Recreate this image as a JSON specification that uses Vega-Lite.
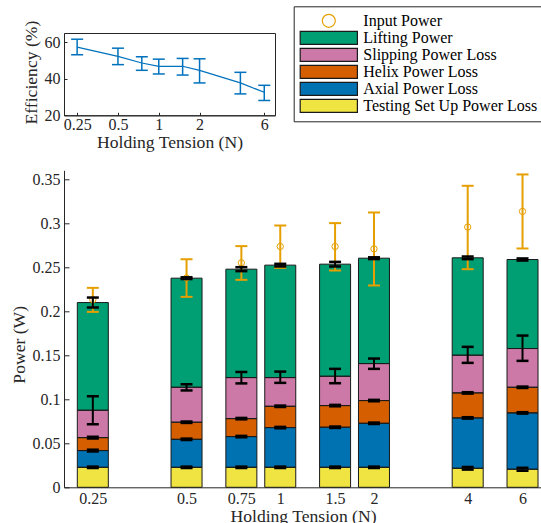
{
  "$schema": "https://vega.github.io/schema/vega-lite/v6.json",
  "padding": {"left": 10, "top": 5, "right": 0, "bottom": 0},
  "bounds": "flush",
  "spacing": 54.3,
  "resolve": {"scale": {"x": "independent", "y": "independent"}, "axis": {"x": "independent", "y": "independent"}},
  "datasets": {
    "eff": [
      {"tension": 0.25, "eff": 57.3, "lo": 53.1, "hi": 61.6},
      {"tension": 0.5, "eff": 52.2, "lo": 47.7, "hi": 56.7},
      {"tension": 0.75, "eff": 48.6, "lo": 44.6, "hi": 52.0},
      {"tension": 1, "eff": 46.8, "lo": 42.6, "hi": 50.7},
      {"tension": 1.5, "eff": 46.8, "lo": 42.0, "hi": 51.1},
      {"tension": 2, "eff": 44.6, "lo": 37.7, "hi": 50.9},
      {"tension": 4, "eff": 37.7, "lo": 31.7, "hi": 43.5},
      {"tension": 6, "eff": 32.6, "lo": 28.1, "hi": 36.4}
    ],
    "parts": [
      {"tension": 0.25, "component": "Testing Set Up Power Loss", "level": 1, "power": 0.0227},
      {"tension": 0.25, "component": "Axial Power Loss", "level": 2, "power": 0.019},
      {"tension": 0.25, "component": "Helix Power Loss", "level": 3, "power": 0.0147},
      {"tension": 0.25, "component": "Slipping Power Loss", "level": 4, "power": 0.0311},
      {"tension": 0.25, "component": "Lifting Power", "level": 5, "power": 0.1223},
      {"tension": 0.5, "component": "Testing Set Up Power Loss", "level": 1, "power": 0.0227},
      {"tension": 0.5, "component": "Axial Power Loss", "level": 2, "power": 0.0318},
      {"tension": 0.5, "component": "Helix Power Loss", "level": 3, "power": 0.0194},
      {"tension": 0.5, "component": "Slipping Power Loss", "level": 4, "power": 0.0397},
      {"tension": 0.5, "component": "Lifting Power", "level": 5, "power": 0.1239},
      {"tension": 0.75, "component": "Testing Set Up Power Loss", "level": 1, "power": 0.0227},
      {"tension": 0.75, "component": "Axial Power Loss", "level": 2, "power": 0.0349},
      {"tension": 0.75, "component": "Helix Power Loss", "level": 3, "power": 0.0204},
      {"tension": 0.75, "component": "Slipping Power Loss", "level": 4, "power": 0.0466},
      {"tension": 0.75, "component": "Lifting Power", "level": 5, "power": 0.1231},
      {"tension": 1, "component": "Testing Set Up Power Loss", "level": 1, "power": 0.0227},
      {"tension": 1, "component": "Axial Power Loss", "level": 2, "power": 0.0451},
      {"tension": 1, "component": "Helix Power Loss", "level": 3, "power": 0.0242},
      {"tension": 1, "component": "Slipping Power Loss", "level": 4, "power": 0.0326},
      {"tension": 1, "component": "Lifting Power", "level": 5, "power": 0.1277},
      {"tension": 1.5, "component": "Testing Set Up Power Loss", "level": 1, "power": 0.0227},
      {"tension": 1.5, "component": "Axial Power Loss", "level": 2, "power": 0.0455},
      {"tension": 1.5, "component": "Helix Power Loss", "level": 3, "power": 0.0246},
      {"tension": 1.5, "component": "Slipping Power Loss", "level": 4, "power": 0.0333},
      {"tension": 1.5, "component": "Lifting Power", "level": 5, "power": 0.1273},
      {"tension": 2, "component": "Testing Set Up Power Loss", "level": 1, "power": 0.0227},
      {"tension": 2, "component": "Axial Power Loss", "level": 2, "power": 0.05},
      {"tension": 2, "component": "Helix Power Loss", "level": 3, "power": 0.0258},
      {"tension": 2, "component": "Slipping Power Loss", "level": 4, "power": 0.042},
      {"tension": 2, "component": "Lifting Power", "level": 5, "power": 0.1197},
      {"tension": 4, "component": "Testing Set Up Power Loss", "level": 1, "power": 0.0216},
      {"tension": 4, "component": "Axial Power Loss", "level": 2, "power": 0.0572},
      {"tension": 4, "component": "Helix Power Loss", "level": 3, "power": 0.0284},
      {"tension": 4, "component": "Slipping Power Loss", "level": 4, "power": 0.0428},
      {"tension": 4, "component": "Lifting Power", "level": 5, "power": 0.1106},
      {"tension": 6, "component": "Testing Set Up Power Loss", "level": 1, "power": 0.0205},
      {"tension": 6, "component": "Axial Power Loss", "level": 2, "power": 0.064},
      {"tension": 6, "component": "Helix Power Loss", "level": 3, "power": 0.0291},
      {"tension": 6, "component": "Slipping Power Loss", "level": 4, "power": 0.044},
      {"tension": 6, "component": "Lifting Power", "level": 5, "power": 0.1011}
    ],
    "errs": [
      {"tension": 0.25, "lo": 0.0219, "hi": 0.0235},
      {"tension": 0.25, "lo": 0.0407, "hi": 0.0427},
      {"tension": 0.25, "lo": 0.0554, "hi": 0.0574},
      {"tension": 0.25, "lo": 0.0716, "hi": 0.1034},
      {"tension": 0.25, "lo": 0.2042, "hi": 0.2155},
      {"tension": 0.5, "lo": 0.0219, "hi": 0.0235},
      {"tension": 0.5, "lo": 0.0537, "hi": 0.0553},
      {"tension": 0.5, "lo": 0.0731, "hi": 0.0747},
      {"tension": 0.5, "lo": 0.110, "hi": 0.117},
      {"tension": 0.5, "lo": 0.2365, "hi": 0.2385},
      {"tension": 0.75, "lo": 0.0219, "hi": 0.0235},
      {"tension": 0.75, "lo": 0.0568, "hi": 0.0584},
      {"tension": 0.75, "lo": 0.0772, "hi": 0.0788},
      {"tension": 0.75, "lo": 0.118, "hi": 0.131},
      {"tension": 0.75, "lo": 0.2455, "hi": 0.25},
      {"tension": 1, "lo": 0.0219, "hi": 0.0235},
      {"tension": 1, "lo": 0.067, "hi": 0.0686},
      {"tension": 1, "lo": 0.0912, "hi": 0.0928},
      {"tension": 1, "lo": 0.1186, "hi": 0.1314},
      {"tension": 1, "lo": 0.2508, "hi": 0.2538},
      {"tension": 1.5, "lo": 0.0219, "hi": 0.0235},
      {"tension": 1.5, "lo": 0.0674, "hi": 0.069},
      {"tension": 1.5, "lo": 0.092, "hi": 0.0936},
      {"tension": 1.5, "lo": 0.1182, "hi": 0.1345},
      {"tension": 1.5, "lo": 0.2508, "hi": 0.256},
      {"tension": 2, "lo": 0.0219, "hi": 0.0235},
      {"tension": 2, "lo": 0.0719, "hi": 0.0735},
      {"tension": 2, "lo": 0.0977, "hi": 0.0993},
      {"tension": 2, "lo": 0.1345, "hi": 0.1462},
      {"tension": 2, "lo": 0.2592, "hi": 0.2612},
      {"tension": 4, "lo": 0.0201, "hi": 0.0231},
      {"tension": 4, "lo": 0.078, "hi": 0.0796},
      {"tension": 4, "lo": 0.1064, "hi": 0.108},
      {"tension": 4, "lo": 0.1413, "hi": 0.1595},
      {"tension": 4, "lo": 0.2591, "hi": 0.2621},
      {"tension": 6, "lo": 0.0188, "hi": 0.0222},
      {"tension": 6, "lo": 0.0837, "hi": 0.0853},
      {"tension": 6, "lo": 0.1128, "hi": 0.1144},
      {"tension": 6, "lo": 0.1436, "hi": 0.1723},
      {"tension": 6, "lo": 0.2575, "hi": 0.2599}
    ],
    "input": [
      {"tension": 0.25, "mean": 0.213, "lo": 0.1992, "hi": 0.2265},
      {"tension": 0.5, "mean": 0.2377, "lo": 0.2163, "hi": 0.259},
      {"tension": 0.75, "mean": 0.2549, "lo": 0.2356, "hi": 0.2739},
      {"tension": 1, "mean": 0.2735, "lo": 0.2492, "hi": 0.2973},
      {"tension": 1.5, "mean": 0.2735, "lo": 0.2462, "hi": 0.3},
      {"tension": 2, "mean": 0.2708, "lo": 0.2292, "hi": 0.3121},
      {"tension": 4, "mean": 0.2955, "lo": 0.2477, "hi": 0.3424},
      {"tension": 6, "mean": 0.3133, "lo": 0.2712, "hi": 0.3553}
    ]
  },
  "vconcat": [
    {
      "width": 211,
      "height": 82.3,
      "view": {"stroke": "#262626", "strokeWidth": 1},
      "data": {"name": "eff"},
      "encoding": {
        "x": {
          "field": "tension", "type": "quantitative",
          "scale": {"type": "log", "domain": [0.2, 7.2], "nice": false, "padding": 0},
          "axis": {"values": [0.25, 0.5, 1, 2, 6], "format": "~g", "title": "Holding Tension (N)", "tickSize": -3, "labelPadding": 4, "titlePadding": 1}
        }
      },
      "layer": [
        {
          "mark": {"type": "line", "color": "#0072BD", "strokeWidth": 1.2},
          "encoding": {
            "y": {"field": "eff", "type": "quantitative", "scale": {"domain": [20, 65], "nice": false, "padding": 0},
              "axis": {"values": [20, 40, 60], "title": "Efficiency (%)", "tickSize": -3, "labelPadding": 7, "titleX": -32.8, "titleY": 39.1, "titleBaseline": "middle"}}
          }
        },
        {
          "mark": {"type": "rule", "color": "#0072BD", "strokeWidth": 1.5},
          "encoding": {
            "y": {"field": "lo", "type": "quantitative", "scale": {"domain": [20, 65], "nice": false, "padding": 0},
              "axis": {"values": [20, 40, 60], "title": "Efficiency (%)", "tickSize": -3, "labelPadding": 7, "titleX": -32.8, "titleY": 39.1, "titleBaseline": "middle"}},
            "y2": {"field": "hi"}
          }
        },
        {
          "mark": {"type": "tick", "orient": "horizontal", "color": "#0072BD", "size": 12, "thickness": 1.5},
          "encoding": {"y": {"field": "lo", "type": "quantitative", "scale": {"domain": [20, 65], "nice": false, "padding": 0},
              "axis": {"values": [20, 40, 60], "title": "Efficiency (%)", "tickSize": -3, "labelPadding": 7, "titleX": -32.8, "titleY": 39.1, "titleBaseline": "middle"}}}
        },
        {
          "mark": {"type": "tick", "orient": "horizontal", "color": "#0072BD", "size": 12, "thickness": 1.5},
          "encoding": {"y": {"field": "hi", "type": "quantitative", "scale": {"domain": [20, 65], "nice": false, "padding": 0},
              "axis": {"values": [20, 40, 60], "title": "Efficiency (%)", "tickSize": -3, "labelPadding": 7, "titleX": -32.8, "titleY": 39.1, "titleBaseline": "middle"}}}
        }
      ]
    },
    {
      "width": 478,
      "height": 317,
      "encoding": {
        "x": {
          "field": "tension", "type": "quantitative",
          "scale": {"type": "log", "domain": [0.202, 6.93], "nice": false, "padding": 0},
          "axis": {"values": [0.25, 0.5, 0.75, 1, 1.5, 2, 4, 6], "format": "~g", "title": "Holding Tension (N)", "tickSize": -5, "labelPadding": 8, "titlePadding": 1}
        },
        "y": {
          "field": "power", "type": "quantitative",
          "scale": {"domain": [0, 0.36], "nice": false, "padding": 0},
          "axis": {"values": [0, 0.05, 0.1, 0.15, 0.2, 0.25, 0.3, 0.35], "format": "~g", "title": "Power (W)", "tickSize": -5, "labelPadding": 9, "titleX": -44.3, "titleY": 174, "titleBaseline": "middle"}
        }
      },
      "layer": [
        {
          "data": {"name": "parts"},
          "mark": {"type": "bar", "size": 31},
          "encoding": {
            "y": {
              "field": "power", "type": "quantitative", "stack": "zero",
              "scale": {"domain": [0, 0.36], "nice": false, "padding": 0},
              "axis": {"values": [0, 0.05, 0.1, 0.15, 0.2, 0.25, 0.3, 0.35], "format": "~g", "title": "Power (W)", "tickSize": -5, "labelPadding": 9, "titleX": -44.3, "titleY": 174, "titleBaseline": "middle"}
            },
            "fill": {
              "field": "component", "type": "nominal",
              "scale": {
                "domain": ["Input Power", "Lifting Power", "Slipping Power Loss", "Helix Power Loss", "Axial Power Loss", "Testing Set Up Power Loss"],
                "range": ["transparent", "#009E73", "#CC79A7", "#D55E00", "#0072B2", "#F0E442"]
              },
              "legend": {
                "title": null,
                "orient": "none",
                "legendX": 229.7,
                "legendY": -26.7,
                "padding": 6.5,
                "strokeColor": "#262626",
                "fillColor": "white",
                "labelFont": "Liberation Serif",
                "labelFontSize": 16,
                "labelColor": "#000000",
                "labelLimit": 0,
                "symbolSize": 169,
                "symbolStrokeWidth": 1.2,
                "symbolOffset": 20.6,
                "labelOffset": 26.5,
                "rowPadding": -2.8,
                "symbolType": {"expr": "datum.value === 'Input Power' ? 'circle' : 'M-4.4,-1H4.4V1H-4.4Z'"},
                "symbolStrokeColor": {"expr": "datum.value === 'Input Power' ? '#E69F00' : '#1a1a1a'"}
              }
            },
            "order": {"field": "level", "type": "quantitative"}
          }
        },
        {
          "data": {"name": "parts"},
          "mark": {"type": "bar", "size": 31, "fillOpacity": 0, "stroke": "#1a1a1a", "strokeWidth": 1},
          "encoding": {
            "y": {"field": "power", "type": "quantitative", "stack": "zero"},
            "detail": {"field": "component", "type": "nominal"},
            "order": {"field": "level", "type": "quantitative"}
          }
        },
        {
          "data": {"name": "input"},
          "mark": {"type": "rule", "color": "#E69F00", "strokeWidth": 2},
          "encoding": {"y": {"field": "lo", "type": "quantitative"}, "y2": {"field": "hi"}}
        },
        {
          "data": {"name": "input"},
          "mark": {"type": "tick", "orient": "horizontal", "color": "#E69F00", "size": 12, "thickness": 2},
          "encoding": {"y": {"field": "lo", "type": "quantitative"}}
        },
        {
          "data": {"name": "input"},
          "mark": {"type": "tick", "orient": "horizontal", "color": "#E69F00", "size": 12, "thickness": 2},
          "encoding": {"y": {"field": "hi", "type": "quantitative"}}
        },
        {
          "data": {"name": "input"},
          "mark": {"type": "point", "shape": "circle", "filled": false, "color": "#E69F00", "size": 40, "strokeWidth": 1, "opacity": 1},
          "encoding": {"y": {"field": "mean", "type": "quantitative"}}
        },
        {
          "data": {"name": "errs"},
          "mark": {"type": "rule", "color": "#000000", "strokeWidth": 2},
          "encoding": {"y": {"field": "lo", "type": "quantitative"}, "y2": {"field": "hi"}}
        },
        {
          "data": {"name": "errs"},
          "mark": {"type": "tick", "orient": "horizontal", "color": "#000000", "size": 12, "thickness": 2.5, "opacity": 1},
          "encoding": {"y": {"field": "lo", "type": "quantitative"}}
        },
        {
          "data": {"name": "errs"},
          "mark": {"type": "tick", "orient": "horizontal", "color": "#000000", "size": 12, "thickness": 2.5, "opacity": 1},
          "encoding": {"y": {"field": "hi", "type": "quantitative"}}
        }
      ]
    }
  ],
  "config": {
    "font": "Liberation Serif",
    "view": {"stroke": null},
    "axis": {
      "labelFont": "Liberation Serif",
      "titleFont": "Liberation Serif",
      "labelFontSize": 16,
      "titleFontSize": 17.6,
      "titleFontWeight": "normal",
      "labelColor": "#262626",
      "titleColor": "#262626",
      "domainColor": "#262626",
      "tickColor": "#262626",
      "grid": false
    },
    "tick": {"opacity": 1},
    "bar": {"opacity": 1}
  }
}
